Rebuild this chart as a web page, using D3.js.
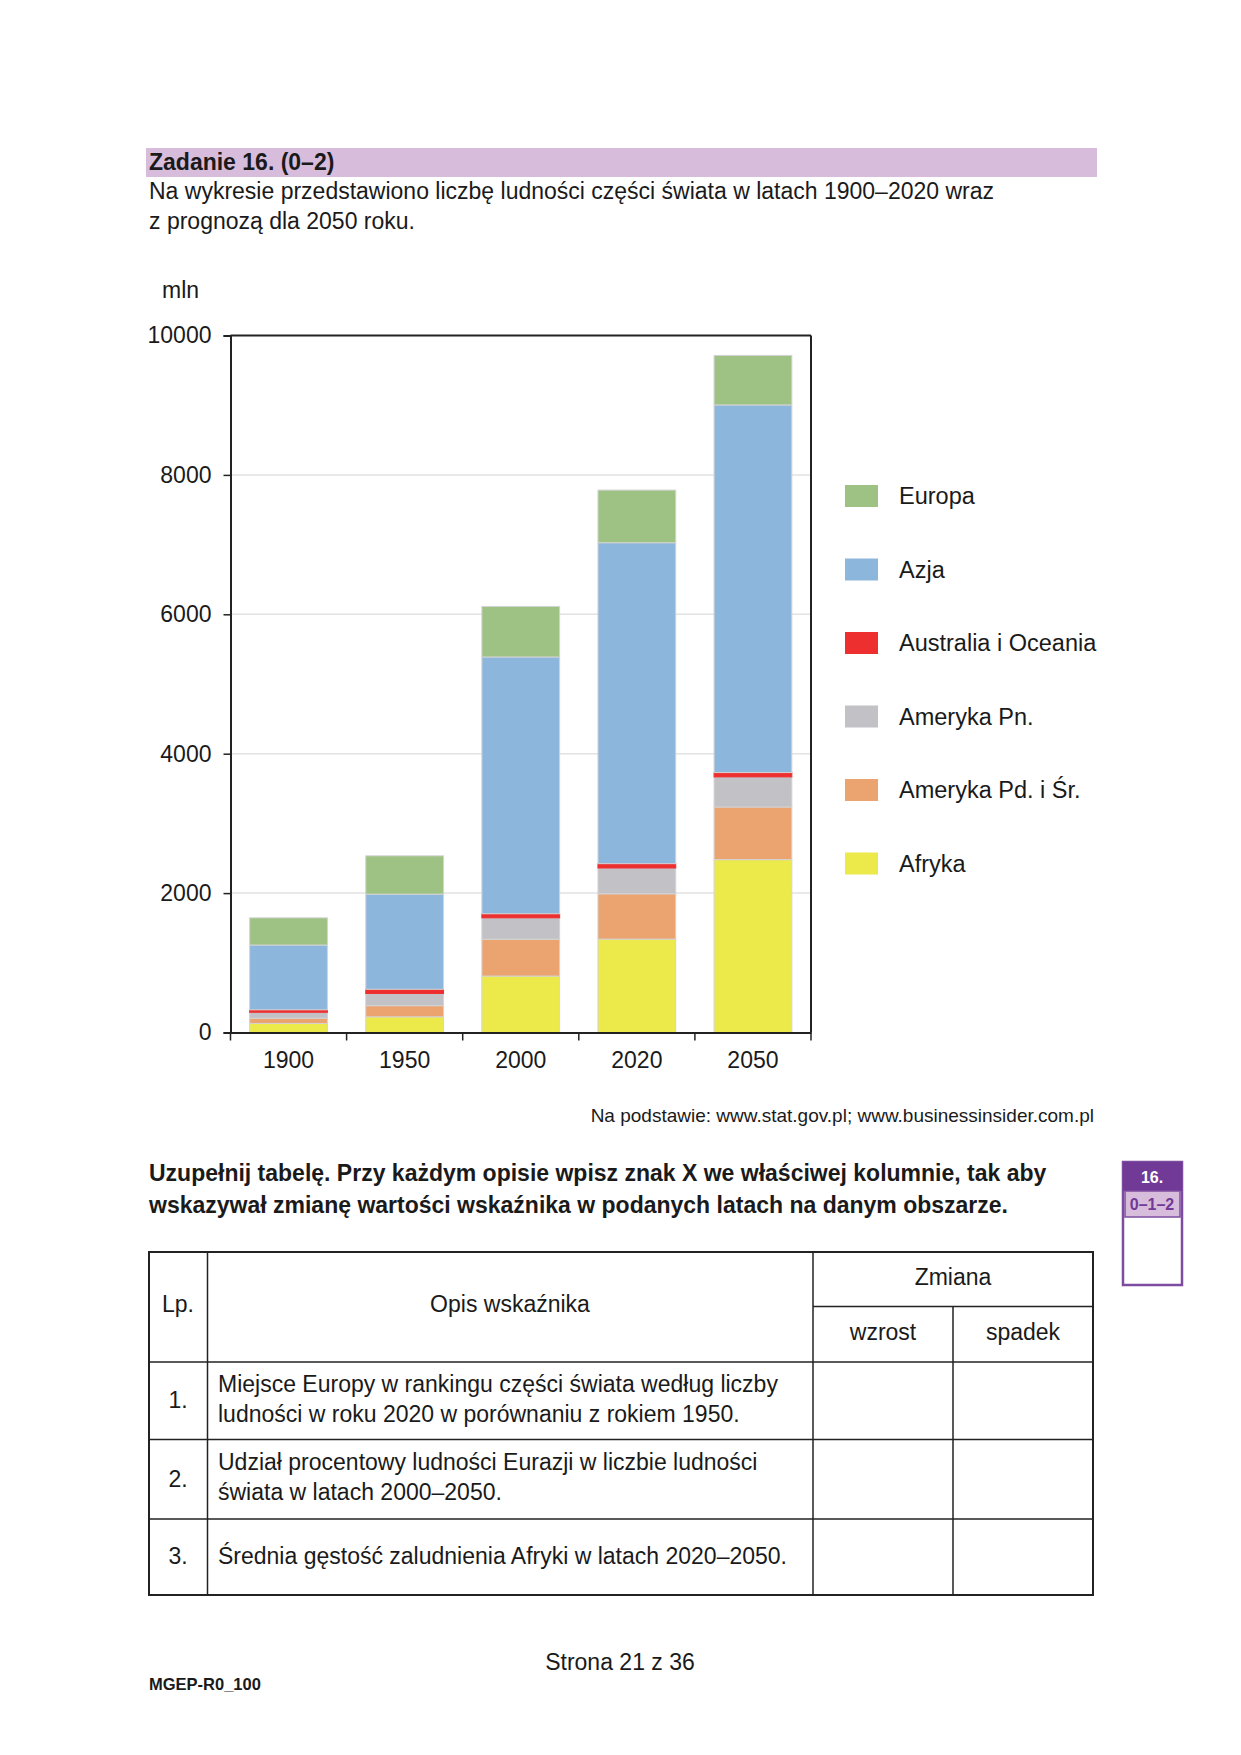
<!DOCTYPE html>
<html>
<head>
<meta charset="utf-8">
<script src="https://cdn.jsdelivr.net/npm/d3@7"></script>
<style>
  body { margin: 0; background: #fff; }
  text { font-family: "Liberation Sans", Arial, sans-serif; fill: #1a1a1a; }
</style>
</head>
<body>
<svg id="page" width="1241" height="1755"></svg>
<script>
// data (mln), stacked from bottom to top
const years = ["1900", "1950", "2000", "2020", "2050"];
const afryka = [130, 225, 810, 1340, 2480];
const amerykaPd = [75, 160, 528, 650, 755];
const amerykaPn = [85, 175, 307, 370, 432];
const oceania = [35, 60, 58, 62, 62];
const azja = [930, 1365, 3685, 4605, 5275];
const europa = [390, 550, 725, 755, 710];
const yTicks = [0, 2000, 4000, 6000, 8000, 10000];

const series = [
    { name: "Afryka", values: afryka, color: "#ece94a" },
    { name: "Ameryka Pd. i Śr.", values: amerykaPd, color: "#eba370" },
    { name: "Ameryka Pn.", values: amerykaPn, color: "#c2c1c6" },
    { name: "Australia i Oceania", values: oceania, color: "#ee2f2f" },
    { name: "Azja", values: azja, color: "#8db6dc" },
    { name: "Europa", values: europa, color: "#9dc283" },
];
const legendOrder = ["Europa", "Azja", "Australia i Oceania", "Ameryka Pn.", "Ameryka Pd. i Śr.", "Afryka"];

const svg = d3.select("#page");

// ---- header ----
svg.append("rect").attr("x", 146).attr("y", 148).attr("width", 951).attr("height", 29).attr("fill", "#d8bcdc");
svg.append("text").attr("x", 149).attr("y", 170).attr("font-size", 23).attr("font-weight", "bold").text("Zadanie 16. (0–2)");
svg.append("text").attr("x", 149).attr("y", 199).attr("font-size", 23)
    .text("Na wykresie przedstawiono liczbę ludności części świata w latach 1900–2020 wraz");
svg.append("text").attr("x", 149).attr("y", 229).attr("font-size", 23).text("z prognozą dla 2050 roku.");

// ---- chart ----
const plot = { left: 230.5, right: 811, top: 335.5, bottom: 1032.5 };

const x = d3.scaleBand()
    .domain(years)
    .range([plot.left, plot.right])
    .paddingInner(0.33)
    .paddingOuter(0.165);

const y = d3.scaleLinear()
    .domain([0, 10000])
    .range([plot.bottom, plot.top]);

const stackData = years.map((yr, i) => {
    let row = { year: yr };
    series.forEach(s => { row[s.name] = s.values[i]; });
    return row;
});
const stacked = d3.stack().keys(series.map(s => s.name))(stackData);

// grid
svg.append("g")
    .selectAll("line")
    .data(yTicks.filter(t => t > 0 && t < 10000))
    .join("line")
    .attr("x1", plot.left).attr("x2", plot.right)
    .attr("y1", d => y(d)).attr("y2", d => y(d))
    .attr("stroke", "#e2e2e2").attr("stroke-width", 1.5);

// bars
svg.append("g")
    .selectAll("g")
    .data(stacked)
    .join("g")
    .attr("fill", (d, i) => series[i].color)
    .attr("stroke", (d, i) => series[i].name === "Australia i Oceania" ? series[i].color : "#d4d4d4")
    .selectAll("rect")
    .data(d => d)
    .join("rect")
    .attr("x", d => x(d.data.year))
    .attr("width", x.bandwidth())
    .attr("y", d => y(d[1]))
    .attr("height", d => y(d[0]) - y(d[1]))
    .attr("stroke-width", 1);

// frame top/right
svg.append("line").attr("x1", plot.left).attr("x2", plot.right).attr("y1", plot.top).attr("y2", plot.top)
    .attr("stroke", "#222").attr("stroke-width", 2);
svg.append("line").attr("x1", plot.right).attr("x2", plot.right).attr("y1", plot.top).attr("y2", plot.bottom)
    .attr("stroke", "#222").attr("stroke-width", 2);

// y axis
const yAxis = svg.append("g")
    .attr("transform", `translate(${plot.left},0)`)
    .call(d3.axisLeft(y).tickValues(yTicks).tickSize(7).tickPadding(12).tickFormat(d3.format("d")));
yAxis.select(".domain").attr("stroke", "#222").attr("stroke-width", 2);
yAxis.selectAll(".tick line").attr("stroke", "#222").attr("stroke-width", 1.5);
yAxis.selectAll(".tick text").attr("font-size", 23).attr("font-family", "Liberation Sans, Arial, sans-serif").attr("fill", "#1a1a1a");

// x axis: labels under bars, ticks on band boundaries
const xAxis = svg.append("g")
    .attr("transform", `translate(0,${plot.bottom})`)
    .call(d3.axisBottom(x).tickSize(0).tickPadding(19));
xAxis.select(".domain").attr("stroke", "#222").attr("stroke-width", 2);
xAxis.selectAll(".tick text").attr("font-size", 23).attr("font-family", "Liberation Sans, Arial, sans-serif").attr("fill", "#1a1a1a");

const bounds = d3.range(years.length + 1).map(i => plot.left + i * x.step());
svg.append("g")
    .selectAll("line")
    .data(bounds)
    .join("line")
    .attr("x1", d => d).attr("x2", d => d)
    .attr("y1", plot.bottom).attr("y2", plot.bottom + 8)
    .attr("stroke", "#222").attr("stroke-width", 1.5);

svg.append("text").attr("x", 162).attr("y", 298).attr("font-size", 23).text("mln");

// legend
const legend = svg.append("g")
    .selectAll("g")
    .data(legendOrder)
    .join("g")
    .attr("transform", (d, i) => `translate(845,${496 + i * 73.5})`);
legend.append("rect")
    .attr("x", 0).attr("y", -11).attr("width", 33).attr("height", 22)
    .attr("fill", d => series.find(s => s.name === d).color);
legend.append("text")
    .attr("x", 54).attr("y", 8).attr("font-size", 23.5)
    .text(d => d);

svg.append("text").attr("x", 1094).attr("y", 1122).attr("font-size", 19).attr("text-anchor", "end")
    .text("Na podstawie: www.stat.gov.pl; www.businessinsider.com.pl");

// ---- instruction ----
svg.append("text").attr("x", 149).attr("y", 1181).attr("font-size", 23).attr("font-weight", "bold")
    .text("Uzupełnij tabelę. Przy każdym opisie wpisz znak X we właściwej kolumnie, tak aby");
svg.append("text").attr("x", 149).attr("y", 1213).attr("font-size", 23).attr("font-weight", "bold")
    .text("wskazywał zmianę wartości wskaźnika w podanych latach na danym obszarze.");

// score box
const box = svg.append("g");
box.append("rect").attr("x", 1123).attr("y", 1162).attr("width", 59).attr("height", 123)
    .attr("fill", "#fff").attr("stroke", "#7d4ca0").attr("stroke-width", 2.5);
box.append("rect").attr("x", 1123).attr("y", 1162).attr("width", 59).attr("height", 29).attr("fill", "#703a96");
box.append("rect").attr("x", 1125).attr("y", 1191).attr("width", 55).attr("height", 26)
    .attr("fill", "#d8bcdc").attr("stroke", "#7d4ca0").attr("stroke-width", 1.5);
box.append("text").attr("x", 1152).attr("y", 1183).attr("font-size", 16).attr("font-weight", "bold")
    .attr("text-anchor", "middle").style("fill", "#fff").text("16.");
box.append("text").attr("x", 1152).attr("y", 1210).attr("font-size", 16).attr("font-weight", "bold")
    .attr("text-anchor", "middle").style("fill", "#703a96").text("0–1–2");

// ---- table ----
const tbl = svg.append("g").attr("stroke", "#222");
const colX = [149, 207.5, 813, 953, 1093];
const rowY = [1252, 1362, 1439.5, 1519, 1595];
const subRow = 1306.5;
tbl.append("rect").attr("x", colX[0]).attr("y", rowY[0])
    .attr("width", colX[4] - colX[0]).attr("height", rowY[4] - rowY[0])
    .attr("fill", "none").attr("stroke-width", 2);
[1, 2].forEach(i => tbl.append("line").attr("x1", colX[i]).attr("x2", colX[i])
    .attr("y1", rowY[0]).attr("y2", rowY[4]).attr("stroke-width", 1.5));
tbl.append("line").attr("x1", colX[3]).attr("x2", colX[3]).attr("y1", subRow).attr("y2", rowY[4]).attr("stroke-width", 1.5);
tbl.append("line").attr("x1", colX[2]).attr("x2", colX[4]).attr("y1", subRow).attr("y2", subRow).attr("stroke-width", 1.5);
[1, 2, 3].forEach(i => tbl.append("line").attr("x1", colX[0]).attr("x2", colX[4])
    .attr("y1", rowY[i]).attr("y2", rowY[i]).attr("stroke-width", 1.5));

const cell = (tx, ty, s, anchor) => svg.append("text").attr("x", tx).attr("y", ty)
    .attr("font-size", 23).attr("text-anchor", anchor || "start").text(s);
cell(178, 1312, "Lp.", "middle");
cell(510, 1312, "Opis wskaźnika", "middle");
cell(953, 1285, "Zmiana", "middle");
cell(883, 1340, "wzrost", "middle");
cell(1023, 1340, "spadek", "middle");

cell(178, 1408, "1.", "middle");
cell(218, 1392, "Miejsce Europy w rankingu części świata według liczby");
cell(218, 1422, "ludności w roku 2020 w porównaniu z rokiem 1950.");
cell(178, 1487, "2.", "middle");
cell(218, 1470, "Udział procentowy ludności Eurazji w liczbie ludności");
cell(218, 1500, "świata w latach 2000–2050.");
cell(178, 1564, "3.", "middle");
cell(218, 1564, "Średnia gęstość zaludnienia Afryki w latach 2020–2050.");

// ---- footer ----
svg.append("text").attr("x", 620).attr("y", 1670).attr("font-size", 23).attr("text-anchor", "middle").text("Strona 21 z 36");
svg.append("text").attr("x", 149).attr("y", 1690).attr("font-size", 16.5).attr("font-weight", "bold").text("MGEP-R0_100");
</script>
</body>
</html>
